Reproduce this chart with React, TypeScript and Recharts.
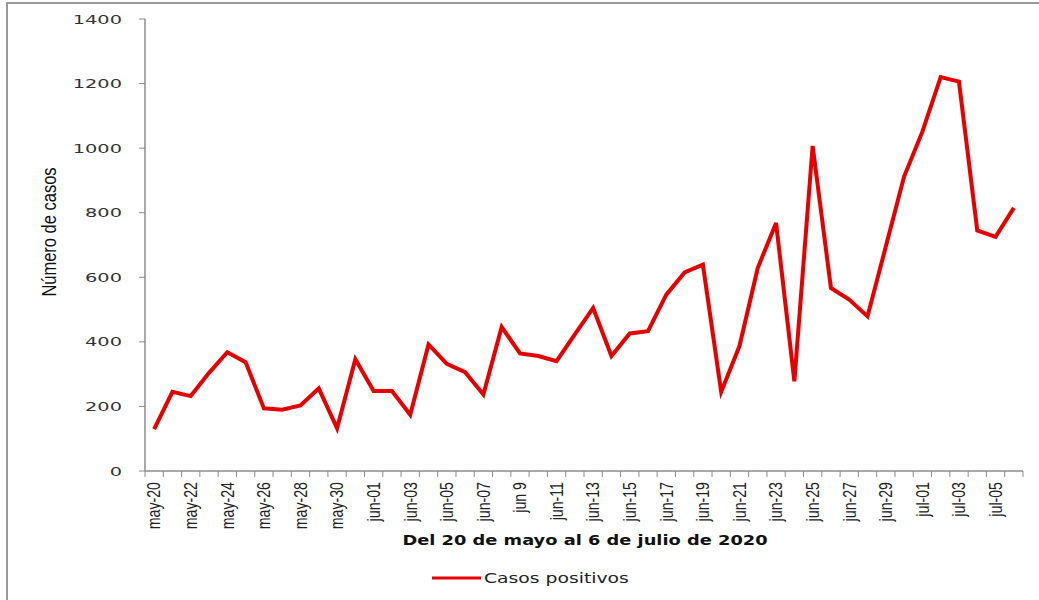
import { Legend, Line, LineChart, XAxis, YAxis } from 'recharts';

const dates = [
  'may-20', 'may-21', 'may-22', 'may-23', 'may-24', 'may-25', 'may-26', 'may-27',
  'may-28', 'may-29', 'may-30', 'may-31', 'jun-01', 'jun-02', 'jun-03', 'jun-04',
  'jun-05', 'jun-06', 'jun-07', 'jun-08', 'jun 9', 'jun-10', 'jun-11', 'jun-12',
  'jun-13', 'jun-14', 'jun-15', 'jun-16', 'jun-17', 'jun-18', 'jun-19', 'jun-20',
  'jun-21', 'jun-22', 'jun-23', 'jun-24', 'jun-25', 'jun-26', 'jun-27', 'jun-28',
  'jun-29', 'jun-30', 'jul-01', 'jul-02', 'jul-03', 'jul-04', 'jul-05', 'jul-06',
];

const casosPositivos = [
  130, 245, 232, 304, 368, 337, 194, 190,
  203, 256, 132, 346, 248, 248, 174, 392,
  332, 306, 237, 446, 364, 356, 340, 423,
  505, 356, 426, 433, 546, 615, 639, 245,
  387, 629, 768, 278, 1007, 567, 531, 479,
  695, 912, 1051, 1220, 1206, 745, 725, 815,
];

const yTicks = [0, 200, 400, 600, 800, 1000, 1200, 1400];

const data = dates.map((d, i) => ({ fecha: d, casos: casosPositivos[i] }));

const W = 1039;
const H = 600;
const M = { top: 19, right: 16, left: 0, bottom: 0 };
const Y_W = 145;
const STEP = (W - M.left - M.right - Y_W) / dates.length;
const AXIS = '#8c8c8c';
const RED = '#e60000';

const YTick = ({ x, y, payload }: any) => (
  <text
    transform={`translate(${x},${y}) scale(1.55,1)`}
    textAnchor="end"
    dy={4.5}
    fontFamily="DejaVu Sans"
    fontSize={12.5}
    fill="#333"
  >
    {payload.value}
  </text>
);

const XTick = ({ x, y, payload, index }: any) => {
  const top = y - 8;
  return (
    <g>
      <line x1={x - STEP / 2} x2={x - STEP / 2} y1={top} y2={top + 6} stroke={AXIS} />
      {index === dates.length - 1 && (
        <line x1={x + STEP / 2} x2={x + STEP / 2} y1={top} y2={top + 6} stroke={AXIS} />
      )}
      {index % 2 === 0 && (
        <text
          transform={`translate(${x},${top + 11}) rotate(-90) scale(1.05,1.3)`}
          textAnchor="end"
          dy="0.36em"
          fontFamily="Liberation Sans"
          fontSize={13.5}
          fill="#222"
        >
          {payload.value}
        </text>
      )}
    </g>
  );
};

const LegendBox = () => (
  <svg width={W} height={24}>
    <line x1={432} x2={481} y1={10} y2={10} stroke={RED} strokeWidth={3} />
    <text
      transform="translate(484,15) scale(1.34,1)"
      fontFamily="DejaVu Sans"
      fontSize={14}
      fill="#222"
    >
      Casos positivos
    </text>
  </svg>
);

export default function App() {
  return (
    <div style={{ position: 'absolute', left: 0, top: 0, width: W, height: H, background: '#fff' }}>
      <div
        style={{
          position: 'absolute',
          left: 6,
          top: 2,
          right: 0,
          bottom: 0,
          borderLeft: '2px solid #9a9a9a',
          borderTop: '2px solid #9a9a9a',
        }}
      />
      <div style={{ position: 'absolute', left: 0, top: 0 }}>
        <LineChart width={W} height={H} data={data} margin={M}>
          <XAxis
            dataKey="fecha"
            scale="band"
            interval={0}
            height={129}
            axisLine={{ stroke: AXIS, strokeWidth: 1.5 }}
            tickLine={false}
            tickSize={6}
            tickMargin={2}
            tick={<XTick />}
            label={{
              content: () => (
                <text
                  transform="translate(585,545) scale(1.32,1)"
                  textAnchor="middle"
                  fontFamily="DejaVu Sans"
                  fontWeight="bold"
                  fontSize={13.5}
                  fill="#111"
                >
                  Del 20 de mayo al 6 de julio de 2020
                </text>
              ),
            }}
          />
          <YAxis
            width={Y_W}
            domain={[0, 1400]}
            ticks={yTicks}
            interval={0}
            axisLine={{ stroke: AXIS, strokeWidth: 1.5 }}
            tickLine={{ stroke: AXIS }}
            tickSize={6}
            tickMargin={17}
            tick={<YTick />}
            label={{
              content: () => (
                <text
                  transform="translate(56,232) rotate(-90) scale(1.1,1.3)"
                  textAnchor="middle"
                  fontFamily="Liberation Sans"
                  fontSize={15}
                  fill="#111"
                >
                  Número de casos
                </text>
              ),
            }}
          />
          <Legend
            layout="horizontal"
            align="center"
            verticalAlign="middle"
            wrapperStyle={{ top: 568, left: 0 }}
            content={() => <LegendBox />}
          />
          <Line
            type="linear"
            dataKey="casos"
            stroke={RED}
            strokeWidth={4}
            dot={false}
            activeDot={false}
            isAnimationActive={false}
          />
        </LineChart>
      </div>
    </div>
  );
}
